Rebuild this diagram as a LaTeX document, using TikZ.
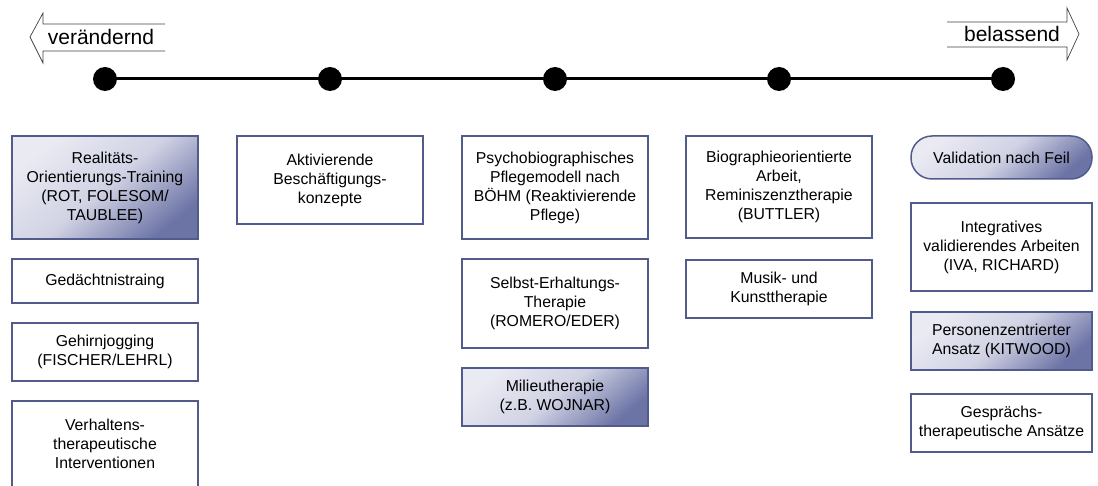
\documentclass[tikz,border=0pt]{standalone}
\usepackage{fontspec}
\setmainfont{Liberation Sans}
\definecolor{rahmen}{RGB}{82,92,140}
\definecolor{hell}{RGB}{234,234,243}
\definecolor{dunkel}{RGB}{108,116,166}
\tikzset{
	kasten/.style={draw=rahmen, line width=1.5pt, fill=white, minimum width=186pt, inner sep=0pt, align=center, font=\fontsize{15.8}{19}\selectfont},
	schattiert/.style={kasten, top color=hell, bottom color=dunkel, middle color=hell!80!dunkel, shading angle=40},
	punkt/.style={circle, fill=black, minimum size=24pt, inner sep=0pt},
	pfeiltext/.style={font=\fontsize{21}{24}\selectfont, inner sep=0pt},
	pfeil/.style={draw=black!75, line width=0.7pt, line join=miter}
}
\begin{document}
\begin{tikzpicture}[x=1pt,y=-1pt]
	
	% 画布大小 (与参考图相同的比例)
	\useasboundingbox (0,0) rectangle (1098,486);
	
	% 定义各列的横坐标
	\def\sA{105} % 第一列
	\def\sB{330} % 第二列
	\def\sC{555} % 第三列
	\def\sD{779} % 第四列
	\def\sE{1001.5} % 第五列
	
	% 时间轴上的点
	\foreach \i/\x in {1/105,2/330,3/555,4/779,5/1003}
		\node[punkt] (p\i) at (\x,79) {};
	\draw[line width=3pt] (p1.center) -- (p5.center); % 连接所有点的直线
	
	% 左边的箭头 "verändernd"
	\node[pfeiltext] (links) at (101,37) {verändernd};
	\coordinate (l1) at (165,24);
	\coordinate (l2) at (165,51);
	\draw[pfeil] (l1) -- (43,24) -- (43,13) -- (30,37) -- (43,63) -- (43,51) -- (l2);
	
	% 右边的箭头 "belassend"
	\node[pfeiltext] (rechts) at (1012,34) {belassend};
	\coordinate (r1) at (947,22);
	\coordinate (r2) at (947,47);
	\draw[pfeil] (r1) -- (1067,22) -- (1067,8) -- (1079,34) -- (1067,60) -- (1067,47) -- (r2);
	
	% 第一列
	\node[schattiert, minimum height=103pt] (a1) at (\sA,187.5) {Realitäts-\\Orientierungs-Training\\(ROT, FOLESOM/\\TAUBLEE)};
	\node[kasten, minimum height=44pt] (a2) at (\sA,281) {Gedächtnistraing};
	\node[kasten, minimum height=58pt] (a3) at (\sA,352) {Gehirnjogging\\(FISCHER/LEHRL)};
	\node[kasten, minimum height=86pt] (a4) at (\sA,444) {Verhaltens-\\therapeutische\\Interventionen};
	
	% 第二列
	\node[kasten, minimum height=88pt] (b1) at (\sB,180) {Aktivierende\\Beschäftigungs-\\konzepte};
	
	% 第三列
	\node[kasten, minimum height=103pt] (c1) at (\sC,187.5) {Psychobiographisches\\Pflegemodell nach\\BÖHM (Reaktivierende\\Pflege)};
	\node[kasten, minimum height=89pt] (c2) at (\sC,303.5) {Selbst-Erhaltungs-\\Therapie\\(ROMERO/EDER)};
	\node[schattiert, minimum height=58pt] (c3) at (\sC,397) {Milieutherapie\\(z.B. WOJNAR)};
	
	% 第四列
	\node[kasten, minimum height=102pt] (d1) at (\sD,187) {Biographieorientierte\\Arbeit,\\Reminiszenztherapie\\(BUTTLER)};
	\node[kasten, minimum height=58pt] (d2) at (\sD,289) {Musik- und\\Kunsttherapie};
	
	% 第五列
	\node[schattiert, minimum width=181pt, minimum height=43pt, rounded corners=21pt] (e1) at (\sE,157.5) {Validation nach Feil};
	\node[kasten, minimum width=181pt, minimum height=88pt] (e2) at (\sE,247) {Integratives\\validierendes Arbeiten\\(IVA, RICHARD)};
	\node[schattiert, minimum width=181pt, minimum height=58pt] (e3) at (\sE,341) {Personenzentrierter\\Ansatz (KITWOOD)};
	\node[kasten, minimum width=181pt, minimum height=58pt] (e4) at (\sE,423) {Gesprächs-\\therapeutische Ansätze};
	
\end{tikzpicture}
\end{document}
